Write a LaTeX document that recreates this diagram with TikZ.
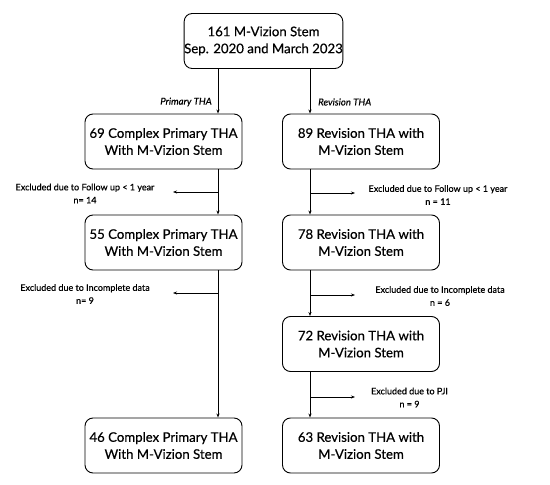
\documentclass[tikz,border=0pt]{standalone}
\usepackage{fontspec}
\setmainfont{Lato}[FakeBold=0.4]
\usetikzlibrary{arrows.meta}
\begin{document}
\begin{tikzpicture}[x=1pt,y=-1pt,
  box/.style={draw,line width=0.9pt,rounded corners=8pt,minimum width=157pt,minimum height=55pt,align=center,font=\fontsize{13.2}{17}\selectfont,inner sep=0pt},
  arr/.style={line width=0.7pt,-{Stealth[length=4pt,width=3pt]}},
  lbl/.style={align=center,font=\fontsize{9}{13}\selectfont,inner sep=0pt},
  side/.style={font=\itshape\fontsize{9.6}{11}\selectfont,inner sep=0pt}]
\useasboundingbox (0,0) rectangle (550,485);
\fill[white] (0,0) rectangle (550,485);
\node[box] (top) at (263.5,41) {161 M-Vizion Stem\\Sep. 2020 and March 2023};
\node[box] (L1) at (163.5,141.5) {69 Complex Primary THA\\With M-Vizion Stem};
\node[box] (R1) at (361,141.5) {89 Revision THA with\\M-Vizion Stem};
\node[box] (L2) at (163.5,242.5) {55 Complex Primary THA\\With M-Vizion Stem};
\node[box] (R2) at (361,242.5) {78 Revision THA with\\M-Vizion Stem};
\node[box] (R3) at (361,344) {72 Revision THA with\\M-Vizion Stem};
\node[box] (L4) at (163.5,445.5) {46 Complex Primary THA\\With M-Vizion Stem};
\node[box] (R4) at (361,445.5) {63 Revision THA with\\M-Vizion Stem};
\coordinate (xl) at (218,0);
\coordinate (xr) at (310,0);
% top branches
\draw[arr] (top.south -| xl) -- (L1.north -| xl);
\draw[arr] (top.south -| xr) -- (R1.north -| xr);
\node[side,anchor=east] (pt) at (212,102) {Primary THA};
\node[side,anchor=west] (rt) at (318,102) {Revision THA};
% left column
\draw[arr] (L1.south -| xl) -- (L2.north -| xl);
\draw[arr] (L2.south -| xl) -- (L4.north -| xl);
\coordinate (lb1) at (218,192); \coordinate (le1) at (173,192);
\coordinate (lb2) at (218,293); \coordinate (le2) at (173,293);
\draw[arr] (lb1) -- (le1);
\draw[arr] (lb2) -- (le2);
\node[lbl] (ll1) at (85,193.5) {Excluded due to Follow up < 1 year\\n= 14};
\node[lbl] (ll2) at (85,294) {Excluded due to Incomplete data\\n= 9};
% right column
\draw[arr] (R1.south -| xr) -- (R2.north -| xr);
\draw[arr] (R2.south -| xr) -- (R3.north -| xr);
\draw[arr] (R3.south -| xr) -- (R4.north -| xr);
\coordinate (rb1) at (310,193); \coordinate (re1) at (355,193);
\coordinate (rb2) at (310,295); \coordinate (re2) at (355,295);
\coordinate (rb3) at (310,397); \coordinate (re3) at (355,397);
\draw[arr] (rb1) -- (re1);
\draw[arr] (rb2) -- (re2);
\draw[arr] (rb3) -- (re3);
\node[lbl] (rl1) at (438,195) {Excluded due to Follow up < 1 year\\n = 11};
\node[lbl] (rl2) at (440,296) {Excluded due to Incomplete data\\n = 6};
\node[lbl] (rl3) at (409.5,397.5) {Excluded due to PJI\\n = 9};
\end{tikzpicture}
\end{document}
